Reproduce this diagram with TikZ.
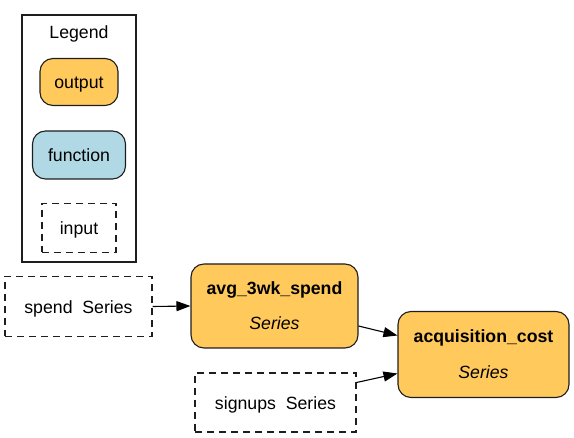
\documentclass[tikz,border=0pt]{standalone}
\usepackage{fontspec}
\setmainfont{Liberation Sans}
\usetikzlibrary{arrows.meta}
\definecolor{outfill}{RGB}{255,201,92}
\definecolor{funfill}{RGB}{176,217,229}
\definecolor{edgecol}{RGB}{30,30,30}
\tikzset{
  base/.style={inner sep=0pt, line width=1.1pt, draw=edgecol, font=\fontsize{17.7}{21}\selectfont, text=black, text height=16pt, text depth=2pt},
  outbox/.style={base, fill=outfill, rounded corners=13pt},
  funbox/.style={base, fill=funfill, rounded corners=13pt},
  inbox/.style={base, dash pattern=on 7pt off 5pt},
  txt/.style={inner sep=0pt, anchor=base, font=\fontsize{17.7}{21}\selectfont},
  conn/.style={line width=1.1pt, draw=black, -{Triangle[length=14pt,width=10pt]}}
}
\begin{document}
\begin{tikzpicture}[x=1pt,y=-1pt]
\useasboundingbox (0,0) rectangle (574,438);
% legend
\node[draw=edgecol, line width=1.1pt, minimum width=114pt, minimum height=247pt, inner sep=0pt] (legend) at (79,138.5) {};
\node[txt] (legtitle) at (79,39) {Legend};
\node[outbox, minimum width=78pt, minimum height=47pt] (lout) at (79,82) {output};
\node[funbox, minimum width=93pt, minimum height=48pt] (lfun) at (79,155) {function};
\node[inbox, minimum width=74pt, minimum height=49pt] (lin) at (79,228) {input};
% graph
\node[inbox, minimum width=147pt, minimum height=60pt] (spend) at (78.5,306.5) {spend\ \ Series};
\node[outbox, minimum width=167pt, minimum height=84pt] (avg) at (274.5,306) {};
\node[txt, font=\fontsize{17.7}{21}\selectfont\bfseries] (avgname) at ([yshift=11pt]avg.center) {avg\_3wk\_spend};
\node[txt, font=\fontsize{17.7}{21}\selectfont\itshape] (avgtype) at ([yshift=-24pt]avg.center) {Series};
\node[outbox, minimum width=171pt, minimum height=86pt] (acq) at (483.5,354.5) {};
\node[txt, font=\fontsize{17.7}{21}\selectfont\bfseries] (acqname) at ([yshift=11.5pt]acq.center) {acquisition\_cost};
\node[txt, font=\fontsize{17.7}{21}\selectfont\itshape] (acqtype) at ([yshift=-24.5pt]acq.center) {Series};
\node[inbox, minimum width=161pt, minimum height=59pt] (signups) at (275.5,402.5) {signups\ \ Series};
% connectors
\draw[conn] (spend.east) -- (avg.west);
\draw[conn] ([yshift=-20pt]avg.east) -- ([yshift=19pt]acq.west);
\draw[conn] ([yshift=20pt]signups.east) -- ([yshift=-19pt]acq.west);
\end{tikzpicture}
\end{document}
